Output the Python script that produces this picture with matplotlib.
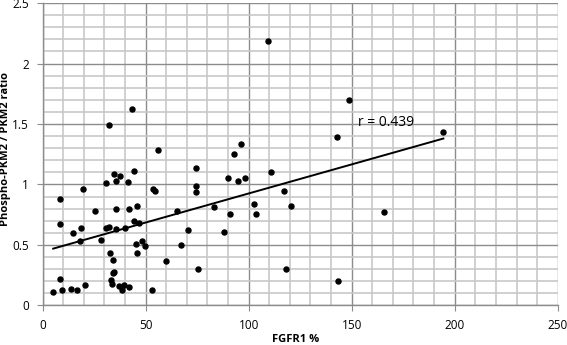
import matplotlib
matplotlib.use('Agg')
import matplotlib.pyplot as plt
from matplotlib.ticker import MultipleLocator

# FGFR1 % (x) and phospho-PKM2 / PKM2 ratio (y)
fgfr1 = [8.4, 8.4, 19.7, 25.6, 30.6, 34.8, 37.7, 35.8, 41.3, 44.5,
         35.8, 41.9, 45.8, 44.2, 46.7, 35.8, 40.0, 30.5, 32.0, 14.8,
         18.4, 18.0, 28.5, 45.5, 48.0, 49.7, 46.0, 32.9, 34.2, 33.9,
         34.8, 33.2, 33.5, 37.1, 38.7, 39.7, 41.9, 53.2, 8.4, 9.3,
         5.1, 13.5, 16.8, 20.3, 53.5, 54.3, 65.1, 70.6, 66.9, 60.0,
         74.5, 74.5, 74.5, 75.6, 32.2, 43.2, 55.8, 109.2, 148.7, 142.9,
         96.4, 92.9, 90.0, 94.6, 98.4, 110.9, 116.9, 120.6, 102.6, 103.7,
         91.1, 83.2, 88.0, 118.0, 143.4, 194.5, 165.5]
ratio = [0.88, 0.67, 0.96, 0.78, 1.01, 1.09, 1.07, 1.03, 1.02, 1.11,
         0.80, 0.80, 0.82, 0.70, 0.68, 0.63, 0.64, 0.64, 0.65, 0.60,
         0.64, 0.53, 0.54, 0.51, 0.53, 0.49, 0.43, 0.43, 0.38, 0.27,
         0.28, 0.21, 0.18, 0.16, 0.13, 0.17, 0.15, 0.13, 0.22, 0.13,
         0.11, 0.14, 0.13, 0.17, 0.96, 0.95, 0.78, 0.62, 0.50, 0.37,
         1.14, 0.99, 0.94, 0.30, 1.49, 1.62, 1.285, 2.19, 1.70, 1.39,
         1.335, 1.25, 1.05, 1.03, 1.05, 1.10, 0.95, 0.825, 0.835, 0.76,
         0.76, 0.81, 0.61, 0.30, 0.20, 1.43, 0.77]

# trend line end points as drawn in the chart
trend_x = [5.1, 194.5]
trend_y = [0.47, 1.38]
r_label = "r = 0.439"

fig = plt.figure(figsize=(5.67, 3.45), dpi=100)
ax = fig.add_axes([0.0753, 0.1145, 0.9083, 0.8768])

ax.set_xlim(0, 250)
ax.set_ylim(0, 2.5)
ax.xaxis.set_major_locator(MultipleLocator(50))
ax.xaxis.set_minor_locator(MultipleLocator(10))
ax.yaxis.set_major_locator(MultipleLocator(0.5))
ax.yaxis.set_minor_locator(MultipleLocator(0.1))
ax.yaxis.set_major_formatter(plt.FuncFormatter(lambda v, p: '%g' % v))

ax.grid(which='minor', color='#c8c8c8', linewidth=1.2)
ax.grid(which='major', color='#8c8c8c', linewidth=1.0)
ax.set_axisbelow(True)

for s in ['top', 'right']:
    ax.spines[s].set_visible(False)
for s in ['left', 'bottom']:
    ax.spines[s].set_color('#8c8c8c')
    ax.spines[s].set_linewidth(1.0)

ax.tick_params(which='major', direction='out', length=4, color='#8c8c8c',
               labelsize=8.5, pad=6)
ax.tick_params(which='minor', length=0)
for lab in ax.get_xticklabels() + ax.get_yticklabels():
    lab.set_family('Open Sans')

ax.scatter(fgfr1, ratio, s=13, color='black', zorder=3)
ax.plot(trend_x, trend_y, color='black', linewidth=1.4, zorder=3)
ax.text(153, 1.51, r_label, fontsize=10, family='Open Sans', va='center')

# axis titles placed as in the reference (x title runs off the bottom edge)
fig.text(296 / 567, 1 - 340 / 345, 'FGFR1 %', fontsize=8, fontweight='bold',
         family='Open Sans', ha='center', va='center')
fig.text(6 / 567, 1 - 149 / 345, 'Phospho-PKM2 / PKM2 ratio', fontsize=8,
         fontweight='bold', family='Open Sans', ha='center', va='center',
         rotation=90)

fig.savefig('out.png', dpi=100)
